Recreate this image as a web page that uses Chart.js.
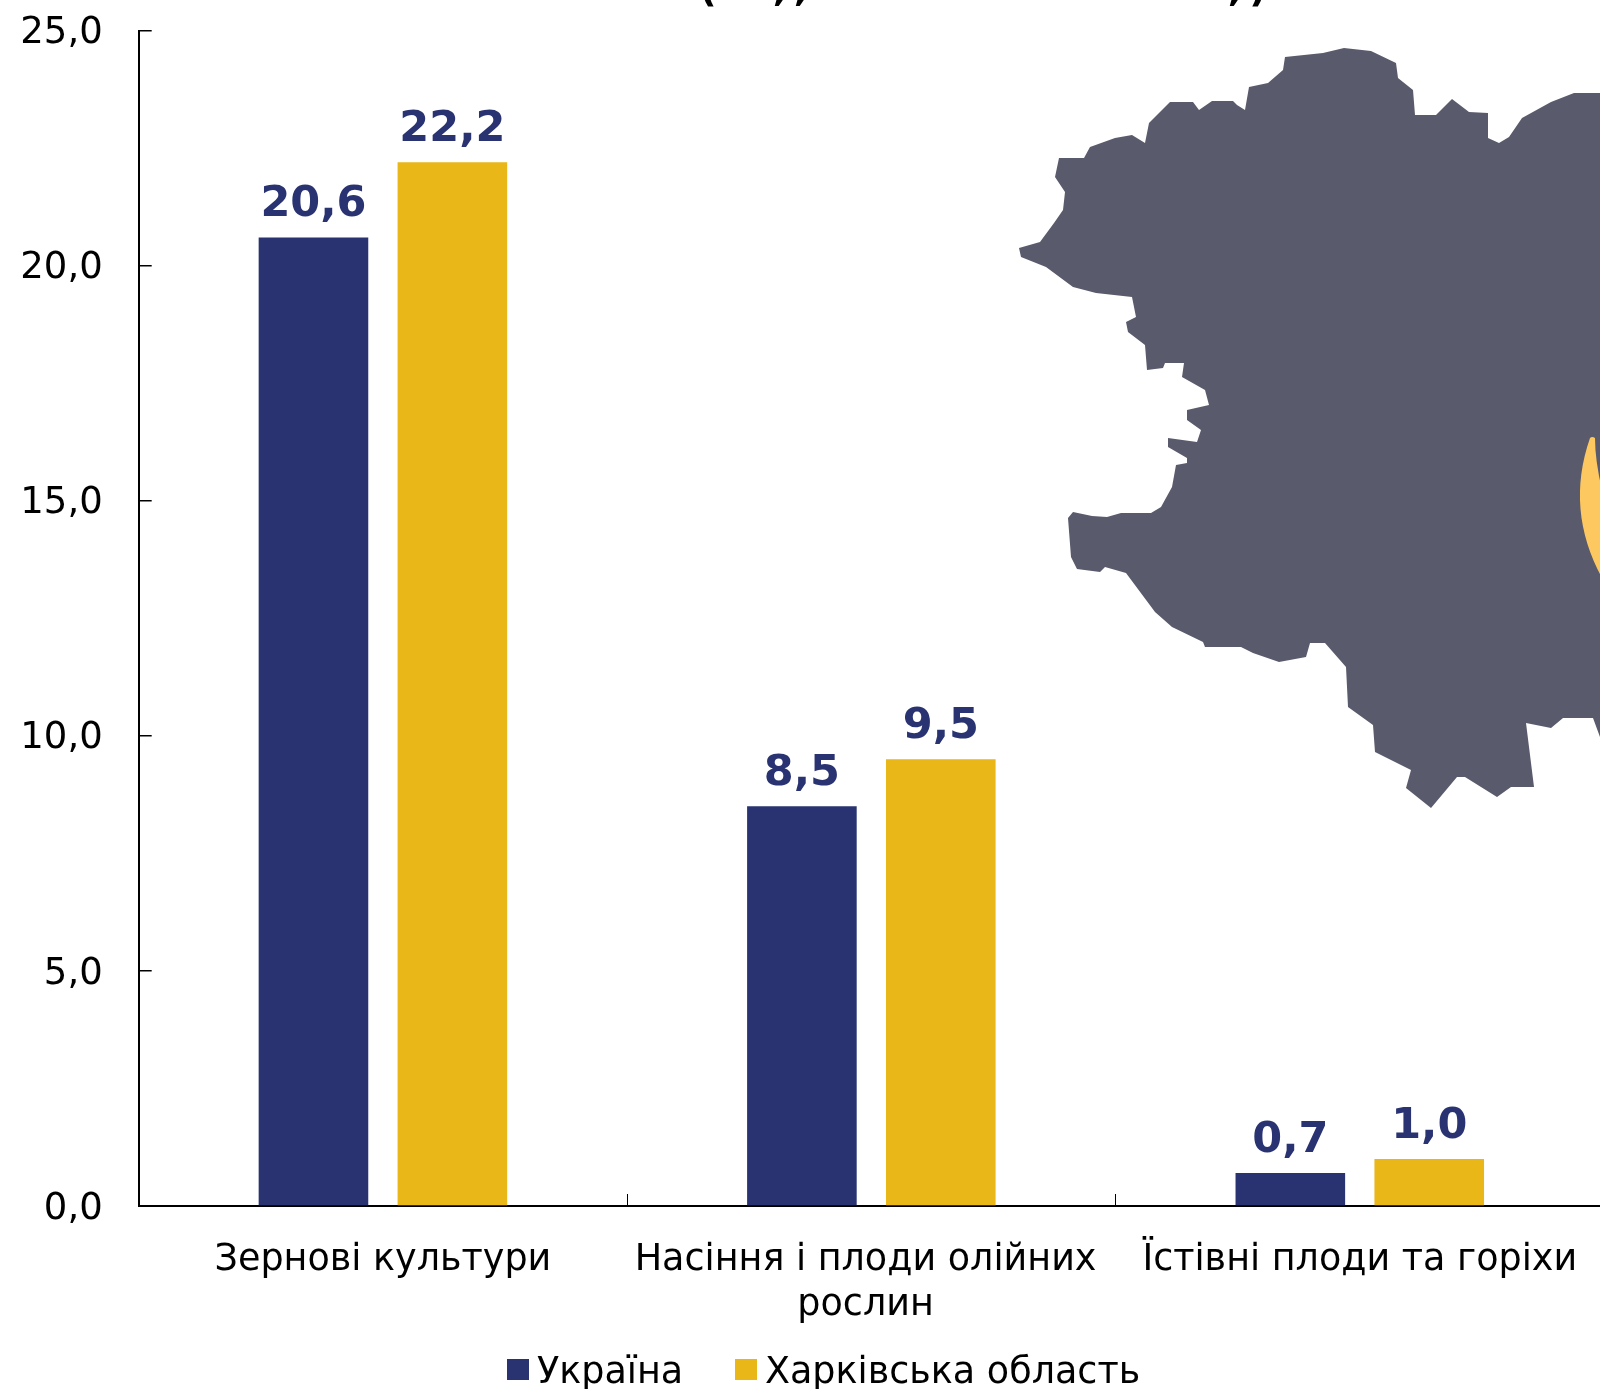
<!DOCTYPE html>
<html>
<head>
<meta charset="utf-8">
<title>Chart</title>
<script src="https://cdn.jsdelivr.net/npm/chart.js@4"></script>
<style>
    html, body { margin: 0; padding: 0; background: #fff; overflow: hidden; width: 1600px; height: 1389px; }
    canvas { display: block; }
</style>
</head>
<body>
<canvas id="chart" width="1610" height="1389"></canvas>
<script>
// data
const categories = ["Зернові культури", ["Насіння і плоди олійних", "рослин"], "Їстівні плоди та горіхи"];
const seriesNames = ["Україна", "Харківська область"];
const ukraineValues = [20.6, 8.5, 0.7];
const kharkivValues = [22.2, 9.5, 1.0];
const seriesColors = ["#293371", "#E9B717"];
const labelColor = "#293371";
const fontName = '"DejaVu Sans", Verdana, sans-serif';

// the title is cut by the top edge of the picture, only these bits are visible
const titleBits = [["(", 708], [",", 780], [",", 801], [",", 1235], [")", 1258]];

// outline of the region on the background (picture pixels)
const mapOutline = [
    [1620, 93], [1574, 93], [1551, 102], [1522, 118], [1509, 137], [1499, 143], [1488, 138], [1488, 113],
    [1469, 112], [1452, 99], [1436, 115], [1415, 115], [1413, 90], [1398, 78], [1396, 63], [1371, 51],
    [1344, 48], [1323, 53], [1285, 57], [1283, 70], [1268, 83], [1249, 87], [1245, 110], [1237, 105],
    [1233, 101], [1212, 101], [1199, 110], [1193, 102], [1170, 102], [1149, 123], [1145, 143], [1132, 135],
    [1115, 138], [1090, 147], [1084, 158], [1059, 158], [1055, 177], [1065, 192], [1063, 210], [1054, 223],
    [1040, 242], [1019, 248], [1021, 257], [1046, 267], [1073, 287], [1096, 293], [1132, 297], [1136, 317],
    [1126, 322], [1128, 332], [1145, 345], [1147, 370], [1163, 368], [1165, 363], [1184, 363], [1182, 377],
    [1205, 390], [1209, 405], [1187, 410], [1187, 420], [1201, 430], [1197, 442], [1168, 438], [1168, 447],
    [1187, 458], [1187, 463], [1176, 465], [1172, 487], [1161, 507], [1151, 513], [1121, 513], [1107, 517],
    [1092, 516], [1073, 512], [1068, 518], [1071, 557], [1077, 569], [1100, 572], [1105, 567], [1126, 573],
    [1155, 612], [1172, 627], [1203, 642], [1205, 647], [1241, 647], [1253, 653], [1279, 662], [1306, 657],
    [1310, 643], [1325, 643], [1346, 667], [1348, 707], [1373, 725], [1375, 752], [1411, 770], [1406, 788],
    [1431, 808], [1457, 777], [1465, 777], [1497, 797], [1511, 787], [1534, 787], [1526, 723], [1551, 728],
    [1563, 718], [1593, 718], [1600, 737], [1620, 737]
];

// background picture and cut title
const backgroundPlugin = {
    id: "background",
    beforeDraw(chart) {
        const ctx = chart.ctx;
        ctx.save();
        ctx.fillStyle = "#595A6B";
        ctx.beginPath();
        mapOutline.forEach((p, i) => i ? ctx.lineTo(p[0], p[1]) : ctx.moveTo(p[0], p[1]));
        ctx.closePath();
        ctx.fill();

        ctx.fillStyle = "#FEC860";
        ctx.beginPath();
        ctx.moveTo(1590, 438);
        ctx.quadraticCurveTo(1592, 436, 1595, 438);
        ctx.quadraticCurveTo(1595, 460, 1602, 490);
        ctx.lineTo(1602, 578);
        ctx.quadraticCurveTo(1565, 510, 1590, 438);
        ctx.fill();

        ctx.fillStyle = "#000";
        ctx.font = "bold 38px " + fontName;
        ctx.textAlign = "center";
        ctx.textBaseline = "alphabetic";
        titleBits.forEach(b => ctx.fillText(b[0], b[1], 1));
        ctx.restore();
    }
};

// values above the bars
const barLabelsPlugin = {
    id: "barLabels",
    afterDatasetsDraw(chart) {
        const ctx = chart.ctx;
        ctx.save();
        ctx.fillStyle = labelColor;
        ctx.font = "bold 43px " + fontName;
        ctx.textAlign = "center";
        ctx.textBaseline = "alphabetic";
        chart.data.datasets.forEach((ds, i) => {
            chart.getDatasetMeta(i).data.forEach((bar, j) => {
                ctx.fillText(ds.data[j].toFixed(1).replace(".", ","), bar.x, bar.y - 21);
            });
        });
        ctx.restore();
    }
};

// legend with a tighter gap than the built in one
const legendPlugin = {
    id: "bottomLegend",
    afterDraw(chart) {
        const ctx = chart.ctx;
        const boxX = [507, 735];
        ctx.save();
        ctx.font = "36.5px " + fontName;
        ctx.textBaseline = "alphabetic";
        chart.data.datasets.forEach((ds, i) => {
            ctx.fillStyle = ds.backgroundColor;
            ctx.fillRect(boxX[i], 1359, 22, 21);
            ctx.fillStyle = "#000";
            ctx.fillText(ds.label, boxX[i] + 30, 1383);
        });
        ctx.restore();
    }
};

new Chart("chart", {
    type: "bar",
    data: {
        labels: categories,
        datasets: [{
            label: seriesNames[0],
            data: ukraineValues,
            backgroundColor: seriesColors[0]
        }, {
            label: seriesNames[1],
            data: kharkivValues,
            backgroundColor: seriesColors[1]
        }]
    },
    options: {
        responsive: false,
        animation: false,
        layout: { padding: { top: 30.5, right: 6 } },
        datasets: { bar: { categoryPercentage: 0.5688, barPercentage: 0.789 } },
        plugins: {
            legend: { display: false },
            tooltip: { enabled: false }
        },
        scales: {
            x: {
                afterFit(scale) {
                    scale.height = 183;
                    scale.paddingLeft = 0;
                    scale.paddingRight = 0;
                },
                border: { color: "#000", width: 2 },
                grid: { drawOnChartArea: false, color: "#000", lineWidth: 1, tickLength: -12 },
                ticks: {
                    color: "#000",
                    font: { family: fontName, size: 36.5, lineHeight: 1.23 },
                    padding: 44,
                    maxRotation: 0,
                    autoSkip: false,
                    // the wrapped label sits a little left of its group in the picture
                    callback(value, index) {
                        const label = this.getLabelForValue(value);
                        return Array.isArray(label) ? label.map(l => l + "\u00A0") : label;
                    }
                }
            },
            y: {
                min: 0,
                max: 25,
                afterFit(scale) {
                    scale.width = 138.7;
                    scale.paddingTop = 0;
                    scale.paddingBottom = 0;
                },
                border: { color: "#000", width: 2 },
                grid: { drawOnChartArea: false, color: "#000", lineWidth: 1.5, tickLength: -13 },
                ticks: {
                    stepSize: 5,
                    color: "#000",
                    font: { family: fontName, size: 37 },
                    padding: 49,
                    labelOffset: 3,
                    callback: v => v.toFixed(1).replace(".", ",")
                }
            }
        }
    },
    plugins: [backgroundPlugin, barLabelsPlugin, legendPlugin]
});
</script>
</body>
</html>
